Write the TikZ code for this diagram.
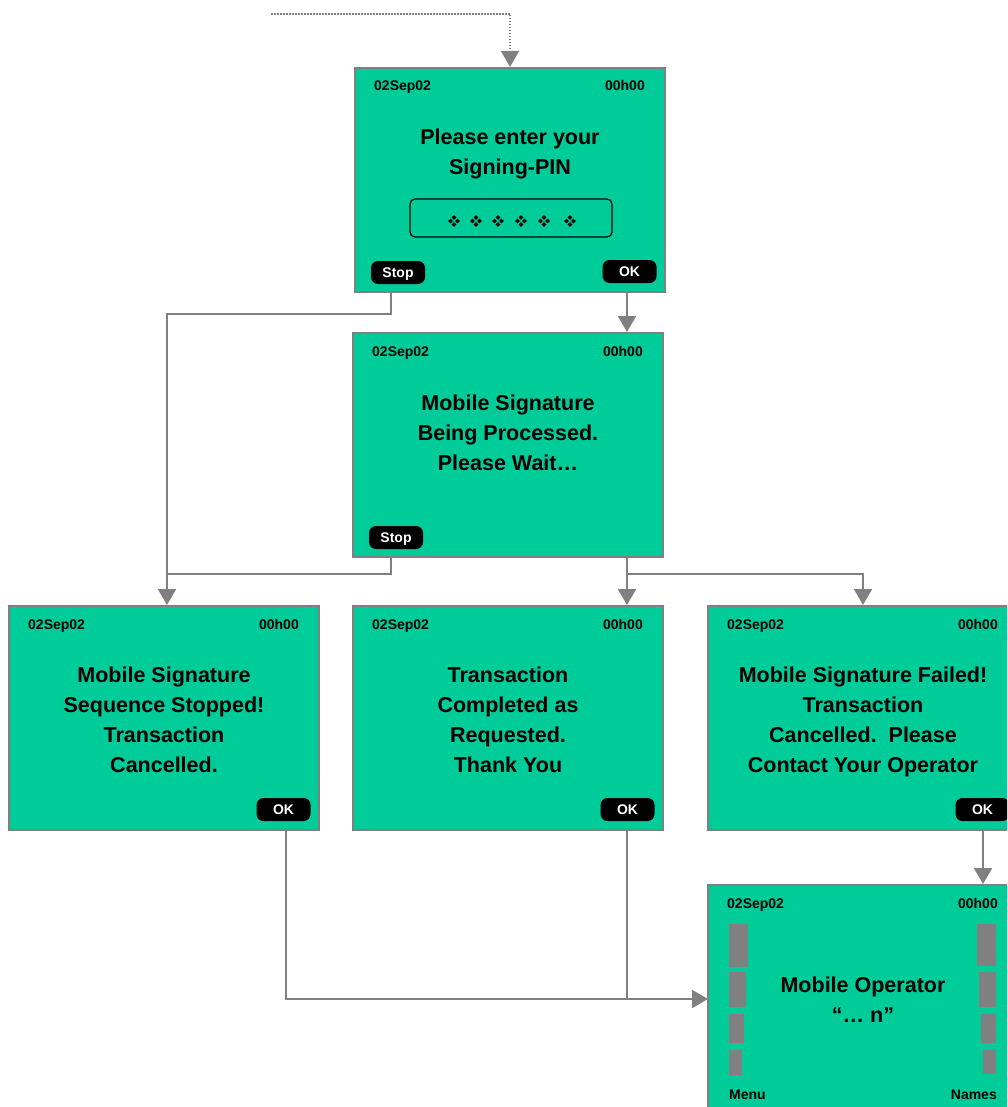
\documentclass[tikz,border=0pt]{standalone}
\usepackage{fontspec}
\setmainfont{Liberation Sans}
\usetikzlibrary{arrows.meta}
\definecolor{scr}{HTML}{00CC99}
\definecolor{lgray}{HTML}{808080}
\tikzset{
  screen/.style={draw=lgray, line width=2pt, fill=scr, minimum width=310pt, minimum height=224pt, inner sep=0},
  small/.style={font=\fontsize{14}{16}\selectfont\bfseries, inner sep=0},
  big/.style={font=\fontsize{21.5}{30}\selectfont\bfseries, inner sep=0, anchor=base},
  btn/.style={fill=black, rounded corners=7pt, minimum width=54pt, minimum height=23pt, text=white,
    font=\fontsize{14}{16}\selectfont\bfseries, inner sep=0, text height=10.2pt, text depth=0pt},
  conn/.style={draw=lgray, line width=2pt, -{Triangle[width=18pt,length=16pt]}, color=lgray},
  plain/.style={draw=lgray, line width=2pt},
  dotconn/.style={draw=lgray, line width=1.5pt, dash pattern=on 1.5pt off 1.5pt, -{Triangle[width=18pt,length=16pt]}, color=lgray},
  bar/.style={fill=lgray}
}
\begin{document}
\begin{tikzpicture}[x=1pt,y=-1pt]
\useasboundingbox (0,0) rectangle (1007,1107);
\clip (0,0) rectangle (1007,1107);

% screens
\node[screen] (b1) at (510,180) {};
\node[screen] (b2) at (508,445) {};
\node[screen] (b3) at (164,718) {};
\node[screen] (b4) at (508,718) {};
\node[screen] (b5) at (863,718) {};
\node[screen] (b6) at (863,997) {};

% dates and times
\foreach \b in {b1,b2,b3,b4,b5,b6}{
  \node[small, anchor=base west] (\b date) at ([xshift=20pt,yshift=-24pt]\b.north west) {02Sep02};
  \node[small, anchor=base east] (\b time) at ([xshift=-21pt,yshift=-24pt]\b.north east) {00h00};
}

% buttons
\node[btn] (stop1) at ([xshift=44pt,yshift=20.5pt]b1.south west) {Stop};
\node[btn] (ok1) at ([xshift=-36.5pt,yshift=21.5pt]b1.south east) {OK};
\node[btn] (stop2) at ([xshift=44pt,yshift=20.5pt]b2.south west) {Stop};
\node[btn] (ok3) at ([xshift=-36.5pt,yshift=21.5pt]b3.south east) {OK};
\node[btn] (ok4) at ([xshift=-36.5pt,yshift=21.5pt]b4.south east) {OK};
\node[btn] (ok5) at ([xshift=-36.5pt,yshift=21.5pt]b5.south east) {OK};

% screen 1 texts
\node[big] (t1a) at (510,145) {Please enter your};
\node[big] (t1b) at (510,175) {Signing-PIN};
\node[draw=black, line width=1.2pt, rounded corners=5pt, minimum width=202pt, minimum height=38pt, inner sep=0] (pin) at (511,218) {};
\foreach \cx in {454,476,498,521,544,570}{
  \foreach \dx/\dy in {-3.5/0,3.5/0,0/-3.5,0/3.5}{
    \fill[black] (\cx+\dx,221+\dy) +(-2.4,0) -- +(0,-2.4) -- +(2.4,0) -- +(0,2.4) -- cycle;
  }
}

% screen 2
\node[big] (t2a) at (508,410) {Mobile Signature};
\node[big] (t2b) at (508,440) {Being Processed.};
\node[big] (t2c) at (508,470) {Please Wait…};

% screen 3
\node[big] (t3a) at (164,682) {Mobile Signature};
\node[big] (t3b) at (164,712) {Sequence Stopped!};
\node[big] (t3c) at (164,742) {Transaction};
\node[big] (t3d) at (164,772) {Cancelled.};

% screen 4
\node[big] (t4a) at (508,682) {Transaction};
\node[big] (t4b) at (508,712) {Completed as};
\node[big] (t4c) at (508,742) {Requested.};
\node[big] (t4d) at (508,772) {Thank You};

% screen 5
\node[big] (t5a) at (863,682) {Mobile Signature Failed!};
\node[big] (t5b) at (863,712) {Transaction};
\node[big] (t5c) at (863,742) {Cancelled.\ \ Please};
\node[big] (t5d) at (863,772) {Contact Your Operator};

% screen 6
\node[big] (t6a) at (863,992) {Mobile Operator};
\node[big] (t6b) at (863,1022) {“… n”};
\node[small, anchor=base west] (menu) at (729,1099) {Menu};
\node[small, anchor=base east] (names) at (997,1099) {Names};
\fill[bar] (729,924) rectangle (748,967);
\fill[bar] (729,972) rectangle (746,1007);
\fill[bar] (729,1014) rectangle (744,1043);
\fill[bar] (729,1050) rectangle (742,1075);
\fill[bar] (977,924) rectangle (996,966);
\fill[bar] (979,972) rectangle (996,1007);
\fill[bar] (981,1014) rectangle (996,1043);
\fill[bar] (983,1050) rectangle (996,1074);

% coordinates for connector routes
\coordinate (start) at (271,14);
\coordinate (xok) at (627,0);
\coordinate (xstop) at (391,0);
\coordinate (xleft) at (167,0);
\coordinate (xok3) at (286,0);
\coordinate (xok5) at (983,0);
\coordinate (j1) at (167,314);
\coordinate (j2) at (167,574);
\coordinate (j3) at (627,574);
\coordinate (j4) at (627,999);
\coordinate (in6) at (708,999);

% connectors
\draw[dotconn] (start) -| (b1.north);
\draw[conn] (b1.south -| xok) -- (b2.north -| xok);
\draw[conn] (b1.south -| xstop) |- (j1) -- (b3.north -| xleft);
\draw[plain] (b2.south -| xstop) |- (j2);
\draw[conn] (b2.south -| xok) -- (b4.north -| xok);
\draw[conn] (j3) -| (b5.north);
\draw[conn] (b3.south -| xok3) |- (in6);
\draw[plain] (b4.south -| xok) -- (j4);
\draw[conn] (b5.south -| xok5) -- (b6.north -| xok5);
\end{tikzpicture}
\end{document}
